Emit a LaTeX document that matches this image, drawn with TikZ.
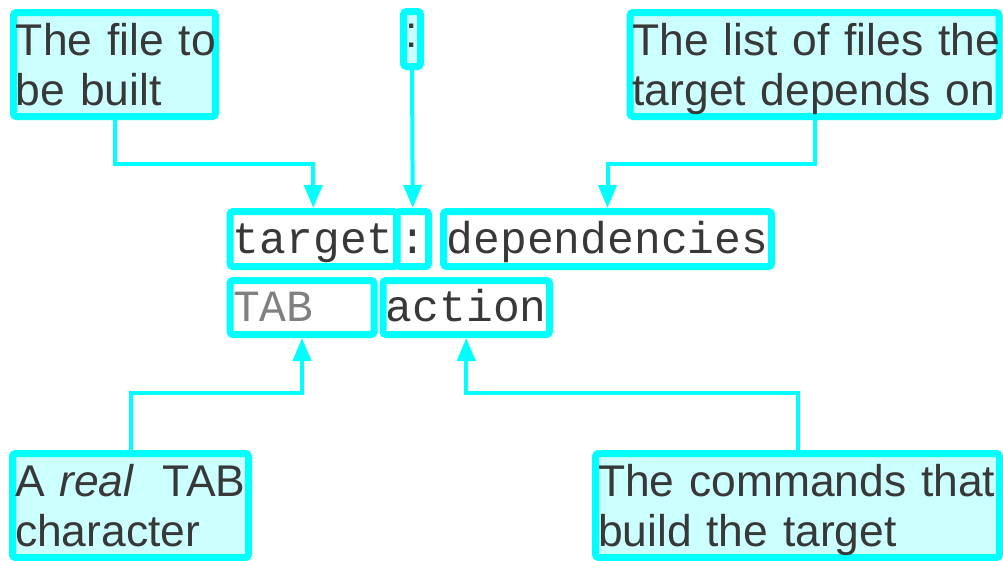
\documentclass[tikz,border=0pt]{standalone}
\usepackage{fontspec}
\setmainfont{Liberation Sans}
\setmonofont{Liberation Mono}
\usetikzlibrary{arrows.meta}
\definecolor{cyanline}{HTML}{00FFFF}
\definecolor{cyanfill}{HTML}{CCFFFF}
\definecolor{txt}{HTML}{383838}
\definecolor{tabgray}{HTML}{808080}
\tikzset{
  note/.style={draw=cyanline, fill=cyanfill, line width=7pt, rounded corners=3pt,
    inner xsep=2.5pt, inner ysep=0pt, align=left, text=txt,
    font=\fontsize{44.4}{50}\selectfont, minimum height=104pt},
  tinynote/.style={draw=cyanline, fill=cyanfill, line width=7pt, rounded corners=3pt,
    inner sep=0pt, text=txt, font=\fontsize{44.4}{50}\selectfont,
    minimum width=17pt, minimum height=55pt, text height=20pt, text depth=3.6pt},
  codebox/.style={draw=cyanline, line width=7pt, rounded corners=3pt, inner sep=0pt,
    text=txt, font=\ttfamily\fontsize{44.6}{50}\selectfont,
    text height=34pt, text depth=6pt},
  conn/.style={draw=cyanline, line width=4pt, -{Triangle[width=18pt,length=23pt]}},
}
\begin{document}
\begin{tikzpicture}[x=1pt, y=-1pt]
\useasboundingbox (0,0) rectangle (1003,560);

% top notes
\node[note, text width=197pt] (file) at (114.5,64.5)
  {\rule{0pt}{41pt}\mbox{The file to}\\\mbox{be built}\rule[-10pt]{0pt}{10pt}};
\node[tinynote] (colontop) at (412,39) {:};
\node[note, text width=364pt] (list) at (814.5,64.5)
  {\rule{0pt}{41pt}\mbox{The list of files the}\\\mbox{target depends on}\rule[-10pt]{0pt}{10pt}};

% code lines
\node[codebox, minimum width=166.5pt, minimum height=55pt] (target) at (313.25,239) {target};
\node[codebox, minimum width=31.5pt, minimum height=55pt] (colon) at (412.75,239) {:};
\node[codebox, minimum width=328pt, minimum height=55pt] (deps) at (607.5,239) {dependencies};
\node[codebox, minimum height=54pt, text width=138pt, inner xsep=3pt, align=left] (tab) at (302,307.5)
  {\textcolor{tabgray}{TAB}};
\node[codebox, minimum width=166.5pt, minimum height=54pt] (action) at (466.25,307.5) {action};

% bottom notes
\node[note, text width=231pt] (real) at (130.5,505.5)
  {\rule{0pt}{41pt}\mbox{A \textit{real}\hspace{28pt}TAB}\\\mbox{character}\rule[-10pt]{0pt}{10pt}};
\node[note, text width=399pt] (cmds) at (797.5,505.5)
  {\rule{0pt}{41pt}\mbox{The commands that}\\\mbox{build the target}\rule[-10pt]{0pt}{10pt}};

% connectors
\draw[conn] (file.south) -- (file.south |- 0,164) -| (target.north);
\draw[conn] (colontop.south) -- (colon.north);
\draw[conn] (list.south) -- (list.south |- 0,164) -| (deps.north);
\draw[conn] (real.north) -- (real.north |- 0,393) -| (tab.south);
\draw[conn] (cmds.north) -- (cmds.north |- 0,393) -| (action.south);
\end{tikzpicture}
\end{document}
